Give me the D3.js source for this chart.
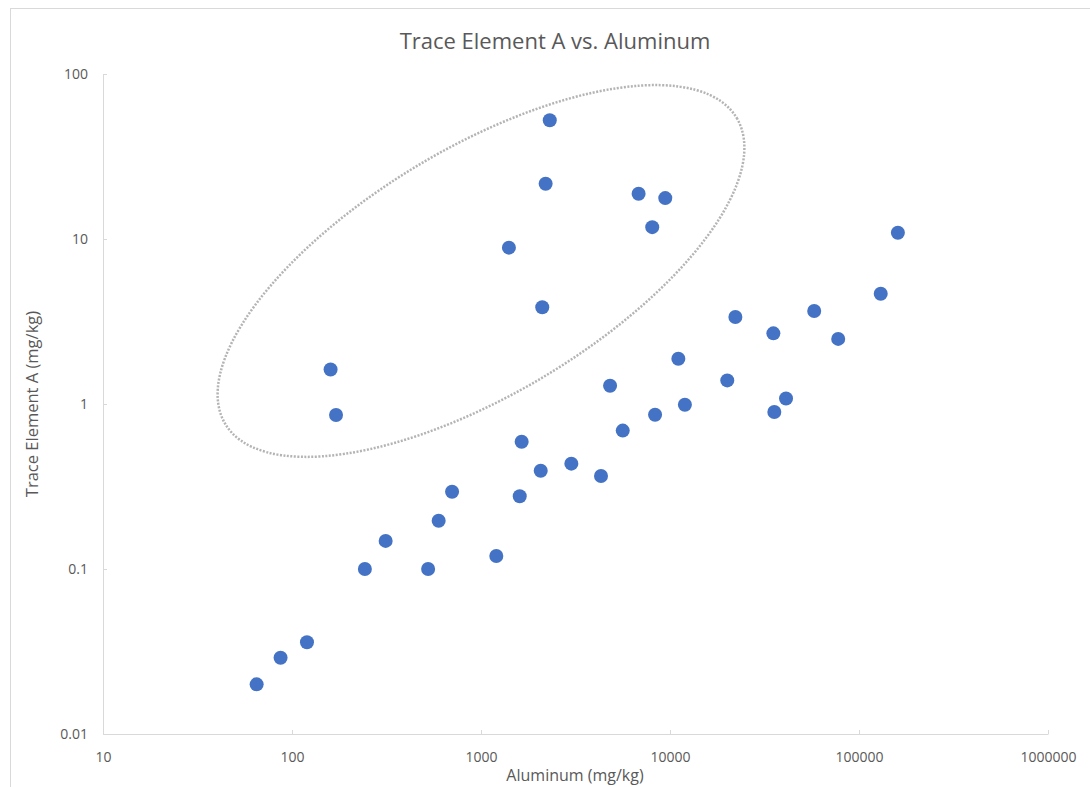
<!DOCTYPE html>
<html>
<head>
<meta charset="utf-8">
<script src="https://cdn.jsdelivr.net/npm/d3@7"></script>
<style>
  body { margin: 0; background: #fff; }
  text { font-family: "Open Sans", "Noto Sans", sans-serif; fill: #595959; }
</style>
</head>
<body>
<div id="chart"></div>
<script>
// Aluminum (mg/kg) vs Trace Element A (mg/kg)
const aluminum = [65, 87, 120, 243, 313, 525, 597, 703, 1205, 1603, 1641, 2070, 3006, 4315,
    4819, 5623, 8337, 11070, 11990, 20090, 22180, 35230, 35650, 41100, 57950, 77620, 130300, 160600,
    2311, 2198, 6822, 9441, 8054, 1405, 2109, 160, 171];
const traceA = [0.02, 0.029, 0.036, 0.1, 0.148, 0.1, 0.196, 0.294, 0.12, 0.276, 0.59, 0.394, 0.435, 0.366,
    1.29, 0.69, 0.86, 1.88, 0.99, 1.39, 3.37, 2.68, 0.895, 1.08, 3.66, 2.48, 4.66, 10.9,
    52.4, 21.6, 18.8, 17.7, 11.8, 8.86, 3.86, 1.62, 0.857];

const xTicks = [10, 100, 1000, 10000, 100000, 1000000];
const yTicks = [0.01, 0.1, 1, 10, 100];

// dotted ellipse annotation around the outliers (center in data units)
const ellipseCenter = {x: 1000, y: 6.4};

const data = aluminum.map((a, i) => ({x: a, y: traceA[i]}));

const W = 1090, H = 787;
const margin = {top: 74, right: 42, bottom: 53, left: 103};
const width = W - margin.left - margin.right,
    height = H - margin.top - margin.bottom;

const svg = d3.select("#chart").append("svg")
    .attr("width", W)
    .attr("height", H);

// chart frame
svg.append("rect")
    .attr("x", 10.5).attr("y", 8.5)
    .attr("width", W + 20).attr("height", H + 20)
    .attr("fill", "none")
    .attr("stroke", "#d9d9d9");

const g = svg.append("g")
    .attr("transform", `translate(${margin.left},${margin.top})`);

const x = d3.scaleLog().domain([10, 1000000]).range([0, width]);
const y = d3.scaleLog().domain([0.01, 100]).range([height, 0]);

const xAxis = g.append("g")
    .attr("transform", `translate(0,${height})`)
    .call(d3.axisBottom(x).tickValues(xTicks).tickFormat(d3.format("d")).tickSizeInner(-4).tickSizeOuter(0).tickPadding(18));

const yAxis = g.append("g")
    .call(d3.axisLeft(y).tickValues(yTicks).tickFormat(d => String(d)).tickSizeInner(-4).tickSizeOuter(0).tickPadding(15));

[xAxis, yAxis].forEach(a => {
    a.select(".domain").attr("stroke", "#d9d9d9");
    a.selectAll(".tick line").attr("stroke", "#d9d9d9");
    a.selectAll(".tick text")
        .style("font-size", "14px")
        .attr("fill", "#595959");
});

// ellipse
g.append("ellipse")
    .attr("cx", x(ellipseCenter.x))
    .attr("cy", y(ellipseCenter.y))
    .attr("rx", 298)
    .attr("ry", 123)
    .attr("transform", `rotate(-30.9,${x(ellipseCenter.x)},${y(ellipseCenter.y)})`)
    .attr("fill", "none")
    .attr("stroke", "#b4b4b4")
    .attr("stroke-width", 2.5)
    .attr("stroke-dasharray", "2 1.5");

// points
g.selectAll("circle.pt")
    .data(data)
    .join("circle")
    .attr("class", "pt")
    .attr("cx", d => x(d.x))
    .attr("cy", d => y(d.y))
    .attr("r", 7)
    .attr("fill", "#4472c4");

// title
svg.append("text")
    .attr("x", 555)
    .attr("y", 49)
    .attr("text-anchor", "middle")
    .style("font-size", "22px")
    .text("Trace Element A vs. Aluminum");

// axis labels
svg.append("text")
    .attr("x", 575)
    .attr("y", 781)
    .attr("text-anchor", "middle")
    .style("font-size", "16px")
    .text("Aluminum (mg/kg)");

svg.append("text")
    .attr("transform", "translate(38,404) rotate(-90)")
    .attr("text-anchor", "middle")
    .style("font-size", "16.5px")
    .text("Trace Element A (mg/kg)");
</script>
</body>
</html>
